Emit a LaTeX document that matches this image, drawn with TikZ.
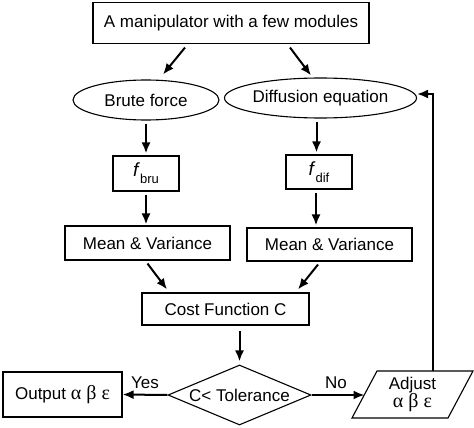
\documentclass[tikz,border=0pt]{standalone}
\usepackage{fontspec}
\setmainfont{Liberation Sans}
\newfontfamily\grk{Liberation Serif}
\usetikzlibrary{shapes.geometric,arrows.meta,calc}
\begin{document}
\begin{tikzpicture}[x=1pt,y=-1pt,
  font=\fontsize{17}{20}\selectfont,
  box/.style={draw,line width=1.1pt,inner sep=0pt},
  oval/.style={draw,line width=1.1pt,ellipse,inner sep=0pt},
  arr/.style={line width=2pt,-{Latex[length=11pt,width=9pt]}},
  lbl/.style={inner sep=0pt}]
\useasboundingbox (0,0) rectangle (474,428);
\node[box,minimum width=276pt,minimum height=41pt] (top) at (231,23) {A manipulator with a few modules};
\node[oval,minimum width=146pt,minimum height=40pt] (brute) at (146,100) {Brute force};
\node[oval,minimum width=165pt,minimum height=40pt] (diff) at (320.5,98) {Diffusion equation};
\node[box,minimum width=66pt,minimum height=35pt] (fbru) at (146,173.5) {{\fontsize{19}{20}\selectfont\textit{f}}\raisebox{-0.4em}{\fontsize{13}{14}\selectfont bru}};
\node[box,minimum width=66pt,minimum height=34pt] (fdif) at (319,172) {{\fontsize{19}{20}\selectfont\textit{f}}\raisebox{-0.4em}{\fontsize{13}{14}\selectfont dif}};
\node[box,minimum width=165pt,minimum height=34pt] (meanL) at (147.5,243) {Mean \& Variance};
\node[box,minimum width=165pt,minimum height=33pt] (meanR) at (329.5,244.5) {Mean \& Variance};
\node[box,minimum width=167pt,minimum height=32pt] (cost) at (225.5,309) {Cost Function C};
\node[draw,line width=1.1pt,diamond,aspect=2.383,inner sep=0pt,minimum width=143pt,minimum height=60pt] (dia) at (239.5,395) {C< Tolerance};
\node[box,minimum width=119pt,minimum height=45pt] (out) at (62.5,394.5) {Output {\grk\fontsize{20}{22}\selectfont α β ε}};
% parallelogram
\coordinate (p1) at (377,371);
\coordinate (p2) at (473,371);
\coordinate (p3) at (448,418);
\coordinate (p4) at (352,418);
\draw[line width=1.1pt] (p1) -- (p2) -- (p3) -- (p4) -- cycle;
\node[lbl,align=center] (adj) at (412.5,394.5) {Adjust\\[-2pt]{\grk\fontsize{20}{22}\selectfont α β ε}};
\coordinate (adjL) at (364.5,395);
\coordinate (adjT) at (433,371);
% connectors
\draw[arr] ([xshift=-46pt,yshift=-3.5pt]top.south) -- ([xshift=17pt,yshift=5pt]brute.north);
\draw[arr] ([xshift=59pt,yshift=-3.5pt]top.south) -- ([xshift=-9.5pt,yshift=2pt]diff.north);
\draw[arr,shorten <=3pt,shorten >=2pt] (brute.south) -- (fbru.north);
\draw[arr,shorten <=3pt,shorten >=2pt] ([xshift=-4pt]diff.south) -- ([xshift=-2.5pt]fdif.north);
\draw[arr,shorten <=3pt,shorten >=1pt] (fbru.south) -- (fbru.south |- meanL.north);
\draw[arr,shorten <=3pt,shorten >=2pt] ([xshift=-3pt]fdif.south) -- ([xshift=-3pt]fdif.south |- meanR.north);
\draw[arr] ([yshift=-3pt]meanL.south) -- ([xshift=-58.5pt,yshift=3pt]cost.north);
\draw[arr] ([xshift=-11.5pt,yshift=-3pt]meanR.south) -- ([xshift=72.5pt,yshift=3pt]cost.north);
\draw[arr,shorten <=5pt,shorten >=3pt] (cost.south -| dia.north) -- (dia.north);
\draw[arr] (dia.west) -- (out.east) node[lbl,midway,above=5pt] {Yes};
\draw[arr] (dia.east) -- (adjL) node[lbl,midway,above=5pt,xshift=-2pt] {No};
\draw[arr] (adjT) |- ([yshift=4pt]diff.east);
\end{tikzpicture}
\end{document}
